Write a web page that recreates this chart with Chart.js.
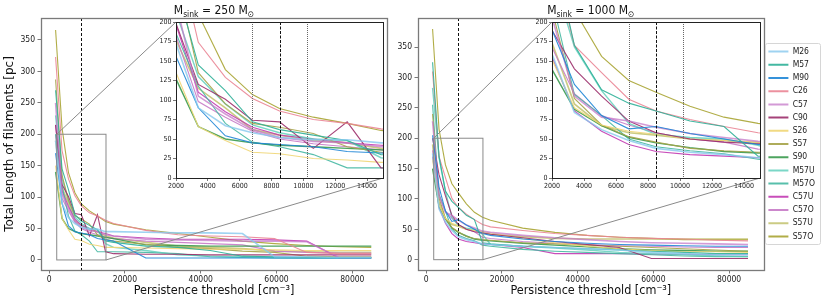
<!DOCTYPE html>
<html><head><meta charset="utf-8">
<script src="https://cdn.jsdelivr.net/npm/chart.js@4.4.0/dist/chart.umd.min.js"></script>
<style>
html,body{margin:0;padding:0;background:#fff;}
#wrap{position:relative;width:831px;height:303px;overflow:hidden;background:#fff;}
canvas{position:absolute;}
</style></head><body>
<div id="wrap">
<canvas id="mainL"></canvas>
<canvas id="mainR"></canvas>
<canvas id="insetL"></canvas>
<canvas id="insetR"></canvas>
</div>
<script>
// ---------------- data ----------------
const thresholds = [1700, 3400, 5100, 6800, 8500, 10625, 12750, 14875, 17000, 25500, 34000, 42500, 51000, 59500, 68000, 76500, 85000];
const seriesNames = ['M26','M57','M90','C26','C57','C90','S26','S57','S90','M57U','M57O','C57U','C57O','S57U','S57O'];
const sinkMasses = [250, 1000];

// M_sink = 250 Msun
const M26_250  = [190, 90, 67, 58, 52, 49, 49, 45, 45, 44, 43, 43, 42, 5, 5, 4, 4];
const M57_250  = [270, 145, 112, 72, 62, 55, 48, 30, 28, 22, 20, 15, 6, 5, 4, 4, 4];
const M90_250  = [170, 90, 54, 45, 43, 40, 34, 32, 30, 3, 3, 3, 3, 3, 3, 3, 3];
const C26_250  = [323, 174, 129, 102, 86, 75, 70, 63, 58, 47, 40, 38, 37, 34, 12, 10, 10];
const C57_250  = [250, 105, 82, 62, 52, 47, 45, 40, 38, 33, 32, 31, 30, 30, 29, 4, 4];
const C90_250  = [215, 120, 101, 74, 72, 38, 72, 13, 10, 9, 9, 8, 8, 8, 8, 8, 8];
const S26_250  = [150, 66, 48, 33, 31, 25, 23, 20, 20, 19, 18, 17, 17, 16, 15, 15, 15];
const S57_250  = [287, 135, 95, 70, 65, 57, 40, 33, 30, 25, 20, 18, 14, 12, 6, 5, 5];
const S90_250  = [140, 66, 50, 45, 42, 40, 38, 36, 34, 24, 23, 22, 22, 22, 22, 22, 22];
const M57U_250 = [230, 130, 95, 68, 58, 50, 48, 26, 20, 15, 8, 6, 5, 4, 3, 3, 3];
const M57O_250 = [200, 118, 70, 46, 40, 30, 13, 13, 13, 12, 10, 5, 4, 3, 3, 3, 3];
const C57U_250 = [215, 110, 85, 65, 55, 50, 45, 42, 38, 35, 33, 33, 33, 32, 30, 3, 3];
const C57O_250 = [200, 98, 78, 60, 50, 44, 40, 36, 34, 30, 28, 26, 24, 14, 12, 11, 11];
const S57U_250 = [190, 115, 90, 62, 55, 48, 45, 38, 35, 28, 22, 20, 18, 14, 13, 12, 12];
const S57O_250 = [366, 210, 139, 107, 89, 78, 70, 61, 57, 48, 42, 36, 30, 26, 23, 21, 20];

// M_sink = 1000 Msun
const M26_1000  = [175, 84, 62, 48, 38, 33, 30, 26, 25, 22, 20, 18, 16, 12, 10, 8, 8];
const M57_1000  = [325, 170, 113, 96, 86, 73, 66, 28, 26, 22, 20, 18, 16, 14, 12, 10, 10];
const M90_1000  = [205, 120, 80, 63, 66, 57, 50, 43, 40, 34, 30, 27, 25, 24, 23, 22, 22];
const C26_1000  = [310, 170, 135, 101, 86, 75, 66, 58, 54, 48, 43, 40, 37, 35, 34, 32, 31];
const C57_1000  = [228, 105, 78, 73, 65, 57, 52, 47, 45, 40, 36, 33, 30, 28, 27, 26, 25];
const C90_1000  = [200, 140, 105, 73, 58, 50, 46, 44, 42, 36, 30, 25, 20, 2, 2, 2, 2];
const S26_1000  = [165, 90, 68, 60, 56, 50, 48, 46, 44, 35, 28, 22, 18, 15, 13, 13, 12];
const S57_1000  = [240, 102, 68, 53, 46, 38, 35, 33, 32, 28, 26, 24, 22, 20, 18, 16, 14];
const S90_1000  = [150, 88, 67, 52, 45, 39, 34, 32, 31, 27, 24, 21, 18, 16, 15, 14, 14];
const M57U_1000 = [283, 168, 112, 70, 56, 52, 50, 42, 25, 22, 19, 16, 12, 10, 8, 6, 5];
const M57O_1000 = [255, 107, 80, 50, 40, 35, 31, 24, 22, 17, 14, 12, 10, 8, 6, 5, 5];
const C57U_1000 = [170, 86, 60, 43, 34, 30, 28, 26, 25, 20, 10, 10, 10, 9, 9, 8, 8];
const C57O_1000 = [180, 108, 80, 68, 58, 50, 46, 37, 35, 30, 27, 25, 23, 22, 21, 20, 20];
const S57U_1000 = [190, 95, 67, 58, 55, 50, 48, 45, 42, 38, 35, 34, 34, 34, 34, 34, 34];
const S57O_1000 = [380, 215, 156, 125, 110, 92, 78, 70, 65, 52, 45, 40, 37, 35, 33, 33, 33];

// reference densities and ticks
const densityRef = 8500;
const densityBand = [6800, 10200];
const zoomX = [2000, 15000];
const zoomY = [0, 200];
const mainXTicks = [0, 20000, 40000, 60000, 80000];
const mainYTicks = [0, 50, 100, 150, 200, 250, 300, 350];
const insetXTicks = [2000, 4000, 6000, 8000, 10000, 12000, 14000];
const insetYTicks = [0, 25, 50, 75, 100, 125, 150, 175, 200];

// ---------------- styles ----------------
const seriesColors = ['rgba(135,200,238,0.8)','rgba(47,176,152,0.9)','rgba(31,134,214,0.9)','rgba(234,133,149,0.9)','rgba(196,120,200,0.75)','rgba(155,45,106,0.9)',
  'rgba(240,214,118,0.9)','rgba(165,163,72,0.9)','rgba(58,154,78,0.9)','rgba(90,205,185,0.8)','rgba(69,184,162,0.9)','rgba(194,58,178,0.9)','rgba(198,122,198,0.9)','rgba(190,190,100,0.8)','rgba(168,164,51,0.9)'];
const seriesWidths = [1.6,1.1,1.1,1.1,1.6,1.1,1.1,1.1,1.4,1.4,1.1,1.1,1.1,1.6,1.1];
const FONT = "'DejaVu Sans Condensed', 'DejaVu Sans', sans-serif";
const FONT_V = "'DejaVu Sans', sans-serif";

const values250 = [M26_250,M57_250,M90_250,C26_250,C57_250,C90_250,S26_250,S57_250,S90_250,M57U_250,M57O_250,C57U_250,C57O_250,S57U_250,S57O_250];
const values1000 = [M26_1000,M57_1000,M90_1000,C26_1000,C57_1000,C90_1000,S26_1000,S57_1000,S90_1000,M57U_1000,M57O_1000,C57U_1000,C57O_1000,S57U_1000,S57O_1000];

// layout boxes (canvas placement)
const boxMainL = {left:0, top:0, w:400, h:303};
const boxMainR = {left:380, top:0, w:451, h:303};
const boxInsetL = {left:140, top:10, w:250, h:185};
const boxInsetR = {left:516, top:10, w:250, h:185};

function place(id, b) {
  const c = document.getElementById(id);
  c.width = b.w; c.height = b.h;
  c.style.left = b.left + 'px'; c.style.top = b.top + 'px';
  c.style.width = b.w + 'px'; c.style.height = b.h + 'px';
  return c;
}

function buildDatasets(values) {
  return seriesNames.map((name, i) => ({
    label: name,
    data: thresholds.map((t, j) => ({x: t, y: values[i][j]})),
    borderColor: seriesColors[i], backgroundColor: seriesColors[i],
    borderWidth: seriesWidths[i], pointRadius: 0, tension: 0, fill: false
  }));
}

function scaleCfg(range, tickList, fontSize, tickLen, pad, fixed, title) {
  return {
    type: 'linear', min: range[0], max: range[1],
    afterBuildTicks: (axis) => { axis.ticks = tickList.map(v => ({value: v})); },
    afterFit: (s) => { if (s.isHorizontal()) s.height = fixed; else s.width = fixed; },
    grid: {display: true, drawOnChartArea: false, drawTicks: true, tickLength: tickLen, color: '#555', lineWidth: 0.8},
    border: {display: false},
    ticks: {font: {family: FONT, size: fontSize}, color: '#222', padding: pad, maxRotation: 0, autoSkip: false,
            callback: (v) => String(v)},
    title: title || {display: false}
  };
}

const decor = {
  id: 'decor',
  beforeDraw(chart, args, o) {
    if (o.whiteBg) {
      const a = chart.chartArea, ctx = chart.ctx;
      ctx.save(); ctx.fillStyle = '#fff';
      ctx.fillRect(a.left, a.top, a.right - a.left, a.bottom - a.top);
      ctx.restore();
    }
  },
  afterDatasetsDraw(chart, args, o) {
    const {ctx, chartArea: a} = chart;
    const x = chart.scales.x, y = chart.scales.y;
    ctx.save();
    ctx.beginPath(); ctx.rect(a.left, a.top, a.right - a.left, a.bottom - a.top); ctx.clip();
    (o.vlines || []).forEach(v => {
      ctx.strokeStyle = v.color; ctx.lineWidth = v.width; ctx.setLineDash(v.dash);
      const px = Math.round(x.getPixelForValue(v.value)) + 0.5;
      ctx.beginPath(); ctx.moveTo(px, a.top); ctx.lineTo(px, a.bottom); ctx.stroke();
    });
    ctx.setLineDash([]);
    if (o.zoom) {
      const x0 = x.getPixelForValue(zoomX[0]), x1 = x.getPixelForValue(zoomX[1]);
      const y0 = y.getPixelForValue(zoomY[0]), y1 = y.getPixelForValue(zoomY[1]);
      ctx.strokeStyle = '#8a8a8a'; ctx.lineWidth = 1;
      ctx.strokeRect(x0, y1, x1 - x0, y0 - y1);
      const ins = o.zoom.inset(), ia = ins.chartArea;
      const dx = o.zoom.box.left - o.zoom.self.left, dy = o.zoom.box.top - o.zoom.self.top;
      ctx.beginPath();
      ctx.moveTo(x0, y1); ctx.lineTo(ia.left + dx, ia.top + dy);
      ctx.moveTo(x1, y0); ctx.lineTo(ia.right + dx, ia.bottom + dy);
      ctx.stroke();
    }
    ctx.restore();
  },
  afterDraw(chart, args, o) {
    const {ctx, chartArea: a} = chart;
    ctx.save();
    ctx.strokeStyle = o.frameColor || '#000'; ctx.lineWidth = o.frameWidth || 1;
    ctx.strokeRect(Math.round(a.left) + 0.5, Math.round(a.top) + 0.5, Math.round(a.right - a.left), Math.round(a.bottom - a.top));
    if (o.title) {
      const big = '12px ' + FONT, small = '8.5px ' + FONT;
      const parts = [['M', big, 0], ['sink', small, 3], [' = ' + o.title + ' M', big, 0], ['\u2299', small, 2.5]];
      ctx.textBaseline = 'alphabetic'; ctx.fillStyle = '#111';
      let w = 0; parts.forEach(p => { ctx.font = p[1]; w += ctx.measureText(p[0]).width; });
      let xx = (a.left + a.right) / 2 - w / 2; const yy = 14;
      parts.forEach(p => { ctx.font = p[1]; ctx.fillText(p[0], xx, yy + p[2]); xx += ctx.measureText(p[0]).width; });
    }
    if (o.legendFrame && chart.legend && chart.legend.legendHitBoxes && chart.legend.legendHitBoxes.length) {
      const hb = chart.legend.legendHitBoxes;
      let l = Infinity, t = Infinity, r = -Infinity, b = -Infinity;
      hb.forEach(h => { l = Math.min(l, h.left); t = Math.min(t, h.top); r = Math.max(r, h.left + h.width); b = Math.max(b, h.top + h.height); });
      ctx.strokeStyle = '#d6d6d6'; ctx.lineWidth = 1;
      ctx.beginPath();
      ctx.roundRect(Math.round(l - 3) + 0.5, Math.round(t - 4) + 0.5, Math.round(r - l + 8), Math.round(b - t + 8), 2);
      ctx.stroke();
    }
    ctx.restore();
  }
};

function baseOptions(padding) {
  return {
    animation: false, responsive: false, devicePixelRatio: 1, events: [],
    layout: {padding: padding},
    plugins: {legend: {display: false}, tooltip: {enabled: false}, title: {display: false}},
  };
}

const mainXRange = [-2150, 89150];
const mainYRange250 = [-16, 385];
const mainYRange1000 = [-17, 398];

function makeInset(id, box, values, padRight) {
  const opts = baseOptions({top: 12, right: padRight, left: 0, bottom: 0});
  opts.plugins.decor = {whiteBg: true, frameColor: '#222', frameWidth: 1,
    vlines: [
      {value: densityBand[0], color: '#666', width: 1, dash: [1, 1]},
      {value: densityRef, color: '#111', width: 1, dash: [3, 1.5]},
      {value: densityBand[1], color: '#666', width: 1, dash: [1, 1]}
    ]};
  opts.scales = {
    x: scaleCfg(zoomX, insetXTicks, 7, 3, 1, 17),
    y: scaleCfg(zoomY, insetYTicks, 7, 3, 1.5, 36)
  };
  return new Chart(place(id, box), {type: 'line', data: {datasets: buildDatasets(values)}, options: opts, plugins: [decor]});
}

const insetL = makeInset('insetL', boxInsetL, values250, 7);
const insetR = makeInset('insetR', boxInsetR, values1000, 6);

function makeMain(id, box, values, yRange, mass, inset, insetBox, withYTitle, withLegend, padRight, yWidth) {
  const opts = baseOptions({top: 18, right: padRight, left: 0, bottom: 0});
  opts.plugins.decor = {frameColor: '#7a7a7a', frameWidth: 1.3, title: mass, legendFrame: withLegend,
    vlines: [{value: densityRef, color: '#111', width: 1, dash: [3, 2]}],
    zoom: {inset: () => inset, box: insetBox, self: box}};
  if (withLegend) {
    opts.plugins.legend = {display: true, position: 'right', fullSize: false, align: 'center',
      labels: {boxWidth: 20, boxHeight: 2, padding: 4.7, color: '#222', font: {family: FONT, size: 8.5},
        generateLabels: (chart) => chart.data.datasets.map((ds, i) => ({
          text: ds.label, fillStyle: ds.borderColor, strokeStyle: ds.borderColor, lineWidth: 0,
          hidden: false, datasetIndex: i, fontColor: '#222'}))}};
  }
  opts.scales = {
    x: scaleCfg(mainXRange, mainXTicks, 8.5, 3.5, 1.5, 33,
      {display: true, text: 'Persistence threshold [cm\u207B\u00B3]', font: {family: FONT, size: 12.5}, color: '#111', padding: {top: 0, bottom: 5}}),
    y: scaleCfg(yRange, mainYTicks, 8.5, 3.5, 2.5, yWidth,
      withYTitle ? {display: true, text: 'Total Length of filaments [pc]', font: {family: FONT_V, size: 12}, color: '#111', padding: {top: 3, bottom: 0}} : null)
  };
  return new Chart(place(id, box), {type: 'line', data: {datasets: buildDatasets(values)}, options: opts, plugins: [decor]});
}

makeMain('mainL', boxMainL, values250, mainYRange250, sinkMasses[0], insetL, boxInsetL, true, false, 13, 41);
makeMain('mainR', boxMainR, values1000, mainYRange1000, sinkMasses[1], insetR, boxInsetR, false, true, 6, 38);
</script>
</body></html>
